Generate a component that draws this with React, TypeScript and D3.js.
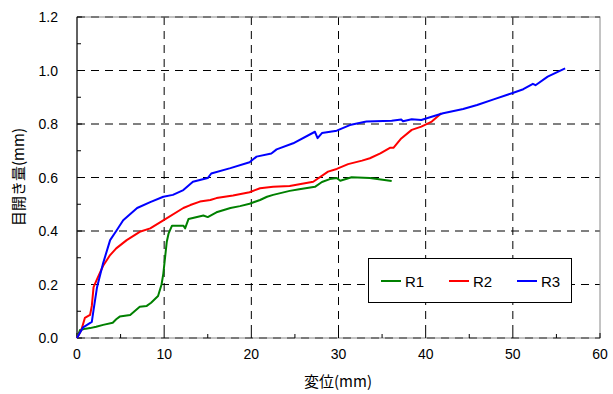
import React from 'react';
import * as d3 from 'd3';

// 変位(mm) と 目開き量(mm)
const r1: [number, number][] = [
  [0, 0], [0.35, 0.03], [1, 0.035], [1.5, 0.037], [2.2, 0.042], [3, 0.049], [4.1, 0.057],
  [4.5, 0.07], [4.9, 0.08], [6.1, 0.086], [6.6, 0.1], [7.2, 0.117], [8, 0.12], [8.5, 0.132],
  [9.3, 0.157], [9.7, 0.2], [9.9, 0.24], [10.3, 0.36], [10.5, 0.39], [10.9, 0.42], [12.2, 0.42],
  [12.4, 0.41], [12.8, 0.445], [14.5, 0.458], [15, 0.452], [16, 0.47], [17.6, 0.486],
  [18.7, 0.493], [19.8, 0.502], [21, 0.516], [21.8, 0.528], [22.5, 0.535], [24.4, 0.55],
  [25.5, 0.556], [27.3, 0.565], [28.1, 0.583], [29, 0.594], [29.8, 0.598], [30.2, 0.588],
  [31.5, 0.601], [33.6, 0.598], [36.1, 0.587],
];

const r2: [number, number][] = [
  [0, 0], [0.5, 0.03], [0.9, 0.075], [1.5, 0.086], [1.7, 0.12], [1.9, 0.19], [2.3, 0.22],
  [3, 0.27], [3.8, 0.31], [4.5, 0.335], [5.7, 0.366], [7.2, 0.397], [8.4, 0.41], [9.9, 0.44],
  [12.2, 0.486], [13, 0.497], [14.1, 0.51], [15.3, 0.516], [16, 0.523], [17.9, 0.533],
  [19.8, 0.545], [21, 0.56], [22.5, 0.565], [24.4, 0.568], [27.1, 0.584], [28.8, 0.622],
  [29.8, 0.632], [31.1, 0.65], [32.7, 0.663], [33.6, 0.672], [34.8, 0.69], [35.9, 0.711],
  [36.3, 0.711], [37.2, 0.746], [38.4, 0.778], [39.5, 0.79], [40.7, 0.809], [41.8, 0.84],
];

const r3: [number, number][] = [
  [0, 0], [0.7, 0.04], [1.2, 0.05], [1.7, 0.06], [1.9, 0.105], [2.3, 0.19], [3, 0.28],
  [3.8, 0.366], [4.5, 0.4], [5.3, 0.44], [6.9, 0.486], [8.4, 0.508], [9.9, 0.528], [11, 0.535],
  [12.2, 0.553], [13.3, 0.584], [15, 0.598], [15.4, 0.615], [17.6, 0.635], [19.8, 0.657],
  [20.6, 0.678], [22.3, 0.69], [22.9, 0.705], [24.8, 0.728], [27.3, 0.771], [27.6, 0.747],
  [28.1, 0.766], [29.8, 0.775], [31.3, 0.796], [33.2, 0.809], [36.1, 0.812], [37.2, 0.817],
  [37.4, 0.81], [38.4, 0.818], [39.5, 0.815], [40.5, 0.825], [42, 0.84], [44.3, 0.856],
  [45.9, 0.871], [47.8, 0.892], [49.9, 0.915], [51.2, 0.93], [52.3, 0.95], [52.6, 0.945],
  [54, 0.977], [56, 1.008],
];

const seriesNames = ['R1', 'R2', 'R3'];
const seriesColors = ['#008000', '#ff0000', '#0000ff'];
const xTicks = [0, 10, 20, 30, 40, 50, 60];
const yTicks = [0, 0.2, 0.4, 0.6, 0.8, 1.0, 1.2];

const W = 613;
const H = 394;
const left = 77, right = 600, top = 17, bottom = 338;
const numFont = '"Liberation Sans", Arial, sans-serif';
const jpFont = '"Noto Sans CJK JP", sans-serif';

export default function App() {
  const x = d3.scaleLinear().domain([0, 60]).range([left, right]);
  const y = d3.scaleLinear().domain([0, 1.2]).range([bottom, top]);
  const line = d3.line<[number, number]>().x(d => x(d[0])).y(d => y(d[1]));
  const data = [r1, r2, r3];

  const xMinor = d3.range(5, 60, 10);
  const yMinor = d3.range(0.1, 1.2, 0.2);

  return (
    <svg width={W} height={H} style={{ position: 'absolute', left: 0, top: 0 }}>
      <rect width={W} height={H} fill="#fff" />
      {/* grid */}
      {xTicks.slice(1, -1).map(t => (
        <line key={'gx' + t} x1={x(t)} x2={x(t)} y1={top} y2={bottom}
          stroke="#000" strokeDasharray="8,6" />
      ))}
      {yTicks.slice(1, -1).map(t => (
        <line key={'gy' + t} x1={left} x2={right} y1={y(t)} y2={y(t)}
          stroke="#000" strokeDasharray="8,6" />
      ))}
      {/* frame */}
      <rect x={left} y={top} width={right - left} height={bottom - top}
        fill="none" stroke="#888" />
      <line x1={left} x2={right} y1={top} y2={top} stroke="#333" strokeDasharray="8,6" />
      <line x1={left} x2={right} y1={bottom} y2={bottom} stroke="#333" strokeDasharray="8,6" />
      <line x1={left} x2={left} y1={top} y2={bottom} stroke="#000" />
      {/* ticks */}
      {xTicks.map(t => (
        <line key={'tx' + t} x1={x(t)} x2={x(t)} y1={bottom} y2={bottom - 5} stroke="#000" />
      ))}
      {xMinor.map(t => (
        <line key={'mx' + t} x1={x(t)} x2={x(t)} y1={bottom} y2={bottom - 4} stroke="#000" />
      ))}
      {yTicks.map(t => (
        <line key={'ty' + t} x1={left} x2={left + 5} y1={y(t)} y2={y(t)} stroke="#000" />
      ))}
      {yMinor.map(t => (
        <line key={'my' + t} x1={left} x2={left + 4} y1={y(t)} y2={y(t)} stroke="#000" />
      ))}
      {/* series */}
      {data.map((d, i) => (
        <path key={seriesNames[i]} d={line(d) || ''} fill="none"
          stroke={seriesColors[i]} strokeWidth={2} strokeLinejoin="round" />
      ))}
      {/* tick labels */}
      {xTicks.map(t => (
        <text key={'lx' + t} x={x(t)} y={359} textAnchor="middle"
          fontFamily={numFont} fontSize={14}>{t}</text>
      ))}
      {yTicks.map(t => (
        <text key={'ly' + t} x={58} y={y(t) + 5} textAnchor="end"
          fontFamily={numFont} fontSize={14}>{t.toFixed(1)}</text>
      ))}
      {/* axis titles */}
      <text x={338} y={387} textAnchor="middle" fontFamily={jpFont} fontSize={15}>変位(mm)</text>
      <text transform={`translate(24,${177}) rotate(-90)`} textAnchor="middle"
        fontFamily={jpFont} fontSize={15}>目開き量(mm)</text>
      {/* legend */}
      <rect x={368.5} y={258.5} width={203} height={44} fill="#fff" stroke="#000" />
      {seriesNames.map((n, i) => (
        <g key={'lg' + n} transform={`translate(${381 + i * 68},281)`}>
          <line x1={0} x2={20} y1={0} y2={0} stroke={seriesColors[i]} strokeWidth={2} />
          <text x={24} y={6} fontFamily={numFont} fontSize={15}>{n}</text>
        </g>
      ))}
    </svg>
  );
}
